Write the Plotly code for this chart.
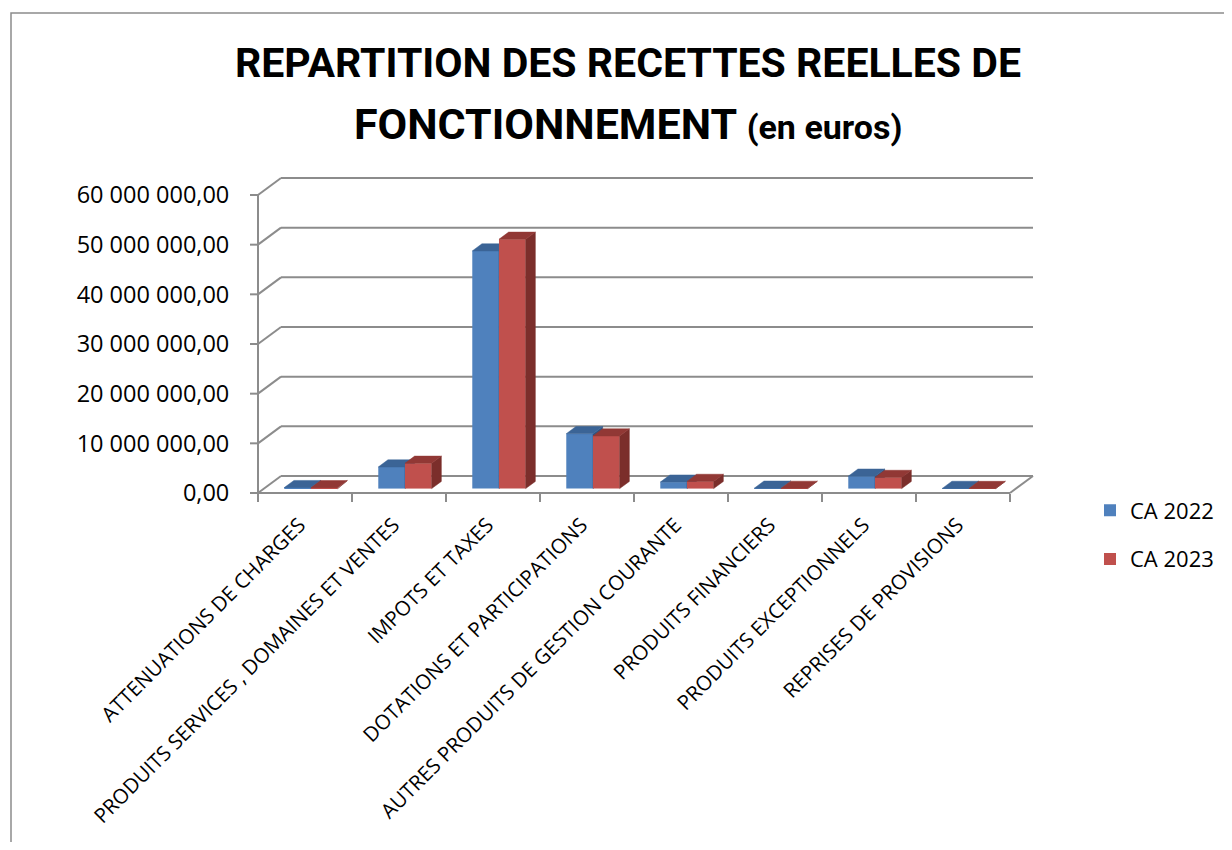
import plotly.graph_objects as go

# ---------------- data ----------------
categories = [
    "ATTENUATIONS DE CHARGES",
    "PRODUITS SERVICES , DOMAINES ET VENTES",
    "IMPOTS ET TAXES",
    "DOTATIONS ET PARTICIPATIONS",
    "AUTRES PRODUITS DE GESTION COURANTE",
    "PRODUITS FINANCIERS",
    "PRODUITS EXCEPTIONNELS",
    "REPRISES DE PROVISIONS",
]
ca_2022 = [200000, 4350000, 47850000, 11050000, 1300000, 80000, 2500000, 40000]
ca_2023 = [180000, 5100000, 50200000, 10600000, 1450000, 50000, 2250000, 20000]
series_names = ["CA 2022", "CA 2023"]
y_ticks = [0, 10000000, 20000000, 30000000, 40000000, 50000000, 60000000]

# ---------------- geometry / style ----------------
FIG_W, FIG_H = 1216, 834
L, R, T, B = 250, 1025, 170, 485
N = len(categories)
CAT_PX = 94.0
DX_PX = (R - L) - CAT_PX * N          # depth offset in px (x)
DY_PX = 17.0                          # depth offset in px (y)
FRONT_TOP_PX = (B - T) - DY_PX        # px for 0..60M at front
YMAX_FRONT = y_ticks[-1]
dxU = DX_PX / CAT_PX
dyU = YMAX_FRONT * DY_PX / FRONT_TOP_PX
XMAX = N + dxU
YMAX = YMAX_FRONT + dyU

D0 = 0.26      # depth fraction of bar front face
BD = 0.42      # bar depth fraction
W = 0.284      # bar width (category units)
base0 = D0 * dyU

GRID = "#8c8c8c"
FONT = "Open Sans"
TITLE_FONT = "Roboto"
colors = {
    "CA 2022": ("#4F81BD", "#3B6496", "#2F5482"),
    "CA 2023": ("#C0504D", "#913835", "#7B2E2B"),
}


def fmt(v):
    s = f"{v:,.2f}"
    return s.replace(",", " ").replace(".", ",")


def px_x(xpx):
    return (xpx - L) / (R - L)


def px_y(ypx):
    return (B - ypx) / (B - T)


fig = go.Figure()

# ---------------- bars (front faces + 3D top/side faces) ----------------
for k, (name, vals) in enumerate(zip(series_names, [ca_2022, ca_2023])):
    front, topc, sidec = colors[name]
    shift = -W / 2 if k == 0 else W / 2
    xa = "x" if k == 0 else "x2"
    ya = "y" if k == 0 else "y2"
    xs = [i + 0.5 + D0 * dxU + shift for i in range(N)]
    fig.add_trace(go.Bar(
        x=xs, y=vals, base=[base0] * N, width=W, name=name,
        marker=dict(color=front, line=dict(width=0)),
        xaxis=xa, yaxis=ya, legendgroup=name,
        hovertemplate="%{text}: %{y:,.2f}<extra>" + name + "</extra>",
        text=categories, textposition="none",
    ))
    ddx, ddy = BD * dxU, BD * dyU
    tx, ty, sx, sy = [], [], [], []
    for i, v in enumerate(vals):
        x0, x1 = xs[i] - W / 2, xs[i] + W / 2
        y0, y1 = base0, base0 + v
        tx += [x0, x1, x1 + ddx, x0 + ddx, x0, None]
        ty += [y1, y1, y1 + ddy, y1 + ddy, y1, None]
        sx += [x1, x1 + ddx, x1 + ddx, x1, x1, None]
        sy += [y0, y0 + ddy, y1 + ddy, y1, y0, None]
    fig.add_trace(go.Scatter(
        x=sx, y=sy, mode="lines", fill="toself", fillcolor=sidec,
        line=dict(color=sidec, width=0.5), showlegend=False,
        hoverinfo="skip", xaxis=xa, yaxis=ya, legendgroup=name))
    fig.add_trace(go.Scatter(
        x=tx, y=ty, mode="lines", fill="toself", fillcolor=topc,
        line=dict(color=topc, width=0.5), showlegend=False,
        hoverinfo="skip", xaxis=xa, yaxis=ya, legendgroup=name))

# ---------------- 3D walls / gridlines ----------------
shapes = []


def dline(xa, ya, xb, yb):
    shapes.append(dict(
        type="line", xref="paper", yref="paper",
        x0=xa / XMAX, y0=ya / YMAX, x1=xb / XMAX, y1=yb / YMAX,
        line=dict(color=GRID, width=2), layer="below"))


for v in y_ticks:
    dline(0, v, dxU, v + dyU)              # side diagonal
    dline(dxU, v + dyU, N + dxU, v + dyU)  # back gridline
    # y tick mark (pointing left of the front axis)
    shapes.append(dict(
        type="line", xref="paper", yref="paper",
        x0=-8 / (R - L), x1=0, y0=v / YMAX, y1=v / YMAX,
        line=dict(color=GRID, width=2), layer="below"))
dline(0, 0, 0, YMAX_FRONT)                 # front vertical axis
dline(0, 0, N, 0)                          # floor front edge
dline(N, 0, N + dxU, dyU)                  # floor right edge

# outer chart border
shapes.append(dict(
    type="rect", xref="paper", yref="paper",
    x0=px_x(3), y0=px_y(5), x1=px_x(FIG_W + 20), y1=px_y(FIG_H + 20),
    line=dict(color="#8c8c8c", width=1.5), fillcolor="rgba(0,0,0,0)",
    layer="below"))

# ---------------- title ----------------
annotations = [
    dict(text="<b>REPARTITION DES RECETTES REELLES DE</b>",
         xref="paper", yref="paper", x=px_x(620), y=px_y(55),
         xanchor="center", yanchor="middle", showarrow=False,
         font=dict(family=TITLE_FONT, size=41, color="black")),
    dict(text="<b>FONCTIONNEMENT <span style='font-size:34px'>(en euros)</span></b>",
         xref="paper", yref="paper", x=px_x(620), y=px_y(116),
         xanchor="center", yanchor="middle", showarrow=False,
         font=dict(family=TITLE_FONT, size=43, color="black")),
]

fig.update_layout(
    width=FIG_W, height=FIG_H,
    margin=dict(l=L, r=FIG_W - R, t=T, b=FIG_H - B, pad=0, autoexpand=False),
    paper_bgcolor="white", plot_bgcolor="rgba(0,0,0,0)",
    barmode="overlay",
    shapes=shapes, annotations=annotations,
    showlegend=True,
    legend=dict(x=px_x(1082), y=px_y(527), xanchor="left", yanchor="middle",
                font=dict(family=FONT, size=22, color="black"),
                traceorder="grouped", tracegroupgap=17,
                bgcolor="rgba(0,0,0,0)"),
    xaxis=dict(range=[0, XMAX], tickmode="array", automargin=False,
               tickvals=[i + 0.44 for i in range(N)], ticktext=categories,
               tickangle=-45, ticks="outside", ticklen=11,
               tickcolor="rgba(0,0,0,0)", showgrid=False, zeroline=False,
               showline=False, tickfont=dict(family=FONT, size=20.5, color="black"),
               minor=dict(tickmode="array", tickvals=list(range(N + 1)),
                          ticks="outside", ticklen=8, tickwidth=2,
                          tickcolor=GRID, showgrid=False)),
    yaxis=dict(range=[0, YMAX], tickmode="array", tickvals=y_ticks,
               automargin=False,
               ticktext=[fmt(v) for v in y_ticks], ticks="outside",
               ticklen=23, tickwidth=1, tickcolor="rgba(0,0,0,0)", showgrid=False,
               zeroline=False, showline=False,
               tickfont=dict(family=FONT, size=23.5, color="black")),
    xaxis2=dict(range=[0, XMAX], overlaying="x", visible=False),
    yaxis2=dict(range=[0, YMAX], overlaying="y", visible=False),
)

fig.write_html("out.html")
